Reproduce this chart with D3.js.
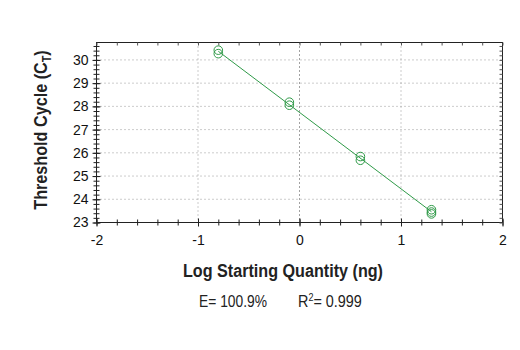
<!DOCTYPE html>
<html>
<head>
<meta charset="utf-8">
<script src="https://cdn.jsdelivr.net/npm/d3@7"></script>
<style>
  html, body { margin: 0; padding: 0; background: #fff; }
  svg { display: block; }
</style>
</head>
<body>
<svg id="chart" width="520" height="350"></svg>
<script>
// Standard curve: log starting quantity vs threshold cycle (replicates per dilution)
const logQuantity = [-0.8, -0.8, -0.1, -0.1, 0.6, 0.6, 1.3, 1.3, 1.3];
const thresholdCycle = [30.42, 30.27, 28.18, 28.05, 25.84, 25.68, 23.55, 23.45, 23.37];
const xTicks = [-2, -1, 0, 1, 2];
const yTicks = [23, 24, 25, 26, 27, 28, 29, 30];
const efficiencyLabel = "E= 100.9%";
const r2Value = "0.999";

(function () {
const svg = d3.select("#chart");
const plotLeft = 96.5, plotRight = 502.5, plotTop = 42.5, plotBottom = 222.5;
const x = d3.scaleLinear().domain([-2, 2]).range([plotLeft, plotRight]);
const y = d3.scaleLinear().domain([23, 30.75]).range([plotBottom, plotTop]);

const green = "#2f9a48";
const axisColor = "#222";

// dotted grid at major ticks
const grid = svg.append("g");
grid.selectAll(".gy").data(yTicks.filter(d => d > 23)).join("line")
  .attr("x1", plotLeft).attr("x2", plotRight)
  .attr("y1", d => y(d)).attr("y2", d => y(d))
  .attr("stroke", "#999").attr("stroke-width", 1).attr("stroke-dasharray", "1,3");
grid.selectAll(".gx").data(xTicks.filter(d => d > -2 && d < 2)).join("line")
  .attr("y1", plotTop).attr("y2", plotBottom)
  .attr("x1", d => x(d)).attr("x2", d => x(d))
  .attr("stroke", d => d === 0 ? "#444" : "#999").attr("stroke-width", 1).attr("stroke-dasharray", "1,3");

// frame
svg.append("rect").attr("x", plotLeft).attr("y", plotTop)
  .attr("width", plotRight - plotLeft).attr("height", plotBottom - plotTop)
  .attr("fill", "none").attr("stroke", axisColor).attr("stroke-width", 1);

const minorX = d3.range(-2, 2.0001, 0.2).map(v => +v.toFixed(1));
const minorY = d3.range(23, 30.75, 0.2).map(v => +v.toFixed(1));

// bottom axis: ticks cross the line
const bx = svg.append("g").attr("transform", `translate(0,${plotBottom})`)
  .call(d3.axisBottom(x).tickValues(minorX).tickSize(3).tickFormat(""));
bx.select(".domain").remove();
bx.selectAll(".tick line").attr("y1", -3).attr("y2", 3).attr("stroke", axisColor);
const bxMaj = svg.append("g").attr("transform", `translate(0,${plotBottom})`)
  .call(d3.axisBottom(x).tickValues(xTicks).tickSize(4).tickPadding(9).tickFormat(d3.format("d")));
bxMaj.select(".domain").remove();
bxMaj.selectAll(".tick line").attr("y1", -4).attr("y2", 4).attr("stroke", axisColor);
bxMaj.selectAll(".tick text").attr("font-family", "Liberation Sans, Arial, sans-serif")
  .attr("font-size", 14).attr("fill", "#111").text(d => d < 0 ? "-" + Math.abs(d) : d);

// left axis
const ly = svg.append("g").attr("transform", `translate(${plotLeft},0)`)
  .call(d3.axisLeft(y).tickValues(minorY).tickSize(3).tickFormat(""));
ly.select(".domain").remove();
ly.selectAll(".tick line").attr("x1", -3).attr("x2", 3).attr("stroke", axisColor);
const lyMaj = svg.append("g").attr("transform", `translate(${plotLeft},0)`)
  .call(d3.axisLeft(y).tickValues(yTicks).tickSize(4).tickPadding(4).tickFormat(d3.format("d")));
lyMaj.select(".domain").remove();
lyMaj.selectAll(".tick line").attr("x1", -4).attr("x2", 4).attr("stroke", axisColor);
lyMaj.selectAll(".tick text").attr("font-family", "Liberation Sans, Arial, sans-serif")
  .attr("font-size", 14).attr("fill", "#111");

// top and right inward ticks
const tx = svg.append("g").attr("transform", `translate(0,${plotTop})`)
  .call(d3.axisBottom(x).tickValues(minorX).tickSize(3).tickFormat(""));
tx.select(".domain").remove();
tx.selectAll(".tick line").attr("stroke", "#555");
const ry = svg.append("g").attr("transform", `translate(${plotRight},0)`)
  .call(d3.axisLeft(y).tickValues(minorY).tickSize(3).tickFormat(""));
ry.select(".domain").remove();
ry.selectAll(".tick line").attr("stroke", "#555");

// least-squares fit through the replicates
const n = logQuantity.length;
const mx = d3.mean(logQuantity), my = d3.mean(thresholdCycle);
let sxy = 0, sxx = 0;
for (let i = 0; i < n; i++) {
  sxy += (logQuantity[i] - mx) * (thresholdCycle[i] - my);
  sxx += (logQuantity[i] - mx) ** 2;
}
const slope = sxy / sxx, intercept = my - slope * mx;
const [xmin, xmax] = d3.extent(logQuantity);
svg.append("line")
  .attr("x1", x(xmin)).attr("y1", y(intercept + slope * xmin))
  .attr("x2", x(xmax)).attr("y2", y(intercept + slope * xmax))
  .attr("stroke", green).attr("stroke-width", 1);

// replicate markers
svg.append("g").selectAll("circle").data(logQuantity.map((v, i) => [v, thresholdCycle[i]]))
  .join("circle")
  .attr("cx", d => x(d[0])).attr("cy", d => y(d[1])).attr("r", 4.3)
  .attr("fill", "none").attr("stroke", green).attr("stroke-width", 1);

// axis titles
const titleFont = "'Liberation Sans Narrow', 'Liberation Sans', Arial, sans-serif";
svg.append("text").attr("x", 283).attr("y", 277).attr("text-anchor", "middle")
  .attr("font-family", titleFont).attr("font-weight", "bold").attr("font-size", 18)
  .attr("fill", "#222").attr("textLength", 200).attr("lengthAdjust", "spacingAndGlyphs")
  .text("Log Starting Quantity (ng)");

const yt = svg.append("text").attr("transform", "translate(47,130) rotate(-90) scale(0.9,1)")
  .attr("text-anchor", "middle").attr("font-family", titleFont)
  .attr("font-weight", "bold").attr("font-size", 18).attr("fill", "#222");
yt.append("tspan").text("Threshold Cycle (C");
yt.append("tspan").attr("font-size", 12).attr("dy", 4).text("T");
yt.append("tspan").attr("dy", -4).text(")");

// efficiency and R² annotation
const statFont = "'Liberation Sans', Arial, sans-serif";
svg.append("text").attr("x", 199).attr("y", 307).attr("font-family", statFont)
  .attr("font-size", 16).attr("fill", "#222")
  .attr("textLength", 68).attr("lengthAdjust", "spacingAndGlyphs")
  .text(efficiencyLabel);
const r2 = svg.append("text").attr("transform", "translate(298,307) scale(0.9,1)")
  .attr("font-family", statFont).attr("font-size", 16).attr("fill", "#222");
r2.append("tspan").text("R");
r2.append("tspan").attr("font-size", 10).attr("dy", -6).text("2");
r2.append("tspan").attr("dy", 6).text("= " + r2Value);
})();
</script>
</body>
</html>
